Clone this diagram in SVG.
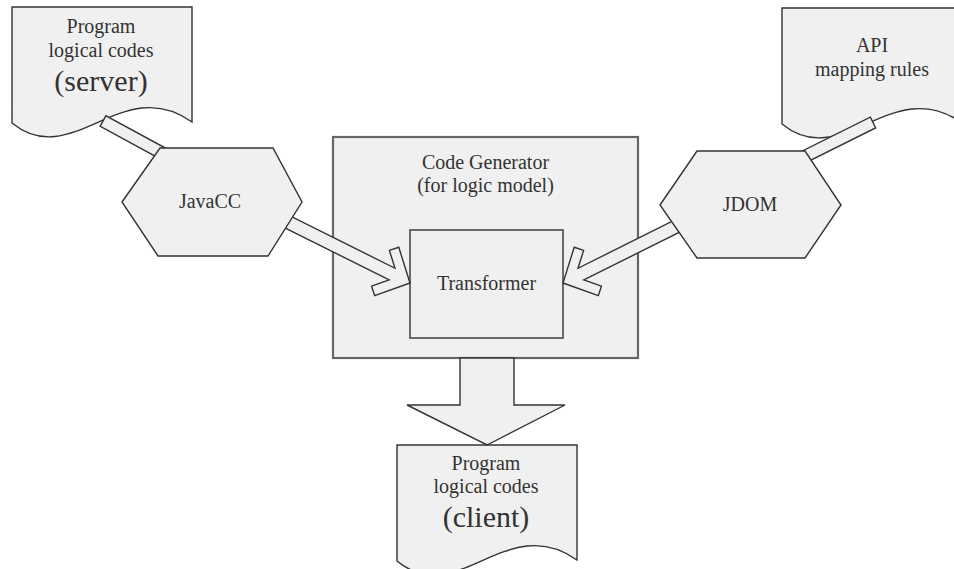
<svg xmlns="http://www.w3.org/2000/svg" width="954" height="569" viewBox="0 0 954 569">
  <style>
    .shape { fill: #f0f0f0; stroke: #333; stroke-width: 1.4; stroke-linejoin: miter; }
    .frame { fill: #f0f0f0; stroke: #666; stroke-width: 2.2; }
    .lbl { font-family: "Liberation Serif", "Times New Roman", serif; font-size: 20px; fill: #333; text-anchor: middle; }
    .big { font-size: 30px; }
  </style>
  <defs>
    <!-- document shape with wavy bottom edge -->
    <path id="doc" d="M0,0 H180 V115 C110,65 60,165 0,116 Z"/>
    <!-- block arrow with open chevron head, tip at origin pointing along +x -->
    <polygon id="chev" points="0,0 -26,-27 -33,-20 -20,-6.5 -145,-6.5 -145,6.5 -20,6.5 -33,20 -26,27"/>
  </defs>

  <rect fill="#ffffff" x="0" y="0" width="954" height="569"/>

  <g id="code-generator">
    <rect class="frame" x="333" y="137" width="305" height="221"/>
    <text class="lbl" x="485.5" y="169">Code Generator</text>
    <text class="lbl" x="485.5" y="192">(for logic model)</text>
  </g>

  <g id="transformer">
    <rect class="shape" x="410" y="230" width="153" height="108"/>
    <text class="lbl" x="486.5" y="290">Transformer</text>
  </g>

  <g id="doc-server">
    <use href="#doc" class="shape" transform="translate(12,7)"/>
    <text class="lbl" x="101" y="33">Program</text>
    <text class="lbl" x="101" y="57">logical codes</text>
    <text class="lbl big" x="101" y="91">(server)</text>
  </g>

  <g id="doc-api">
    <use href="#doc" class="shape" transform="translate(782,8)"/>
    <text class="lbl" x="872" y="52">API</text>
    <text class="lbl" x="872" y="76">mapping rules</text>
  </g>

  <g id="doc-client">
    <use href="#doc" class="shape" transform="translate(397,445)"/>
    <text class="lbl" x="486" y="470">Program</text>
    <text class="lbl" x="486" y="493">logical codes</text>
    <text class="lbl big" x="486" y="527">(client)</text>
  </g>

  <g id="connectors">
    <!-- straight bars linking documents to parsers -->
    <rect class="shape" x="0" y="-6" width="80" height="12" transform="translate(103,121) rotate(28.5)"/>
    <rect class="shape" x="0" y="-6" width="85" height="12" transform="translate(873,122.5) rotate(153.5)"/>
    <!-- parser outputs into the transformer -->
    <use href="#chev" class="shape" transform="translate(410,283) rotate(26.5)"/>
    <use href="#chev" class="shape" transform="translate(563,283) rotate(153.5)"/>
    <!-- generated output -->
    <polygon class="shape" points="460,358 514,358 514,405 565,405 487,445 407,405 460,405"/>
  </g>

  <g id="javacc">
    <polygon class="shape" points="122,202 160,148 273,148 302,202 268,256 158,256"/>
    <text class="lbl" x="210" y="208">JavaCC</text>
  </g>

  <g id="jdom">
    <polygon class="shape" points="660,205 697,151 805,151 841,205 805,258 697,258"/>
    <text class="lbl" x="750" y="211">JDOM</text>
  </g>
</svg>
